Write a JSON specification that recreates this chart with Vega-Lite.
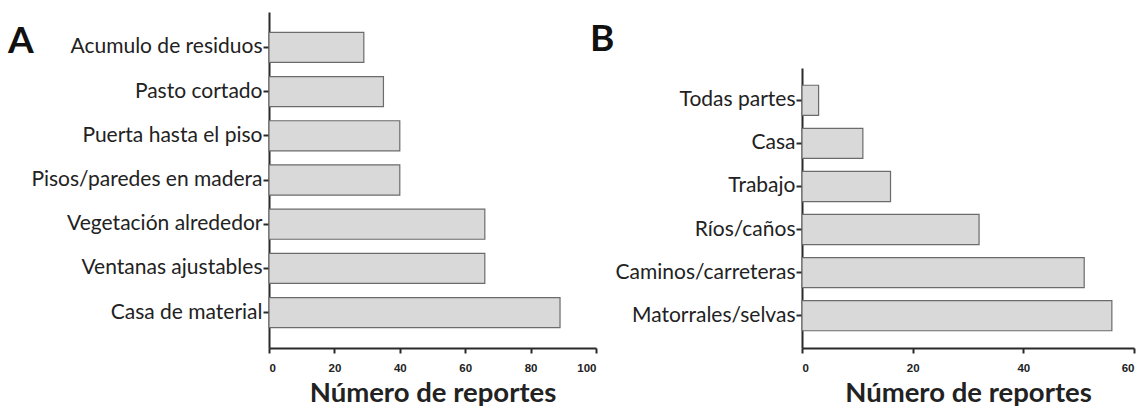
{
  "$schema": "https://vega.github.io/schema/vega-lite/v6.json",
  "padding": {"left": 7, "top": 12, "right": 5, "bottom": 0},
  "background": "white",
  "datasets": {
    "a": [
      {"factor": "Acumulo de residuos", "reportes": 29},
      {"factor": "Pasto cortado", "reportes": 35},
      {"factor": "Puerta hasta el piso", "reportes": 40},
      {"factor": "Pisos/paredes en madera", "reportes": 40},
      {"factor": "Vegetación alrededor", "reportes": 66},
      {"factor": "Ventanas ajustables", "reportes": 66},
      {"factor": "Casa de material", "reportes": 89}
    ],
    "b": [
      {"lugar": "Todas partes", "reportes": 3},
      {"lugar": "Casa", "reportes": 11},
      {"lugar": "Trabajo", "reportes": 16},
      {"lugar": "Ríos/caños", "reportes": 32},
      {"lugar": "Caminos/carreteras", "reportes": 51},
      {"lugar": "Matorrales/selvas", "reportes": 56}
    ]
  },
  "config": {
    "view": {"stroke": null},
    "axis": {
      "domainColor": "#2a2a2a",
      "domainWidth": 2,
      "tickColor": "#2a2a2a",
      "tickWidth": 2,
      "grid": false,
      "labelColor": "#222",
      "titleColor": "#222"
    },
    "title": {"font": "Lato", "fontSize": 37, "fontWeight": "bold", "color": "#111", "anchor": "start", "frame": "bounds"}
  },
  "bounds": "flush",
  "spacing": 206,
  "hconcat": [
    {
      "data": {"name": "a"},
      "width": 327,
      "height": 336,
      "title": {"text": "A", "offset": -49, "dx": -23},
      "mark": {"type": "bar", "fill": "#d9d9d9", "stroke": "#6b6b6b", "strokeWidth": 1.2},
      "encoding": {
        "y": {
          "field": "factor", "type": "nominal", "sort": null,
          "scale": {"paddingInner": 0.32, "paddingOuter": 0.46},
          "axis": {"title": null, "labelFont": "Lato", "labelFontSize": 21, "labelLimit": 0, "tickSize": 6, "labelPadding": 1}
        },
        "x": {
          "field": "reportes", "type": "quantitative",
          "scale": {"domain": [0, 100], "nice": false},
          "axis": {"values": [0, 20, 40, 60, 80, 100], "title": "Número de reportes", "titleFont": "Lato", "titleFontSize": 27.5, "titleFontWeight": "bold", "titlePadding": 6, "labelFont": "Liberation Sans", "labelFontWeight": "bold", "labelFontSize": 11.5, "tickSize": 5, "labelPadding": 9}
        }
      }
    },
    {
      "data": {"name": "b"},
      "width": 332,
      "height": 336,
      "title": {"text": "B", "offset": -47, "dx": -25},
      "mark": {"type": "bar", "fill": "#d9d9d9", "stroke": "#6b6b6b", "strokeWidth": 1.2},
      "encoding": {
        "y": {
          "field": "lugar", "type": "nominal", "sort": null,
          "scale": {"range": [56, 336], "paddingInner": 0.3, "paddingOuter": 0.4},
          "axis": {"title": null, "labelFont": "Lato", "labelFontSize": 21, "labelLimit": 0, "tickSize": 6, "labelPadding": 1}
        },
        "x": {
          "field": "reportes", "type": "quantitative",
          "scale": {"domain": [0, 60], "nice": false},
          "axis": {"values": [0, 20, 40, 60], "title": "Número de reportes", "titleFont": "Lato", "titleFontSize": 27.5, "titleFontWeight": "bold", "titlePadding": 6, "labelFont": "Liberation Sans", "labelFontWeight": "bold", "labelFontSize": 11.5, "tickSize": 5, "labelPadding": 9}
        }
      }
    }
  ]
}
